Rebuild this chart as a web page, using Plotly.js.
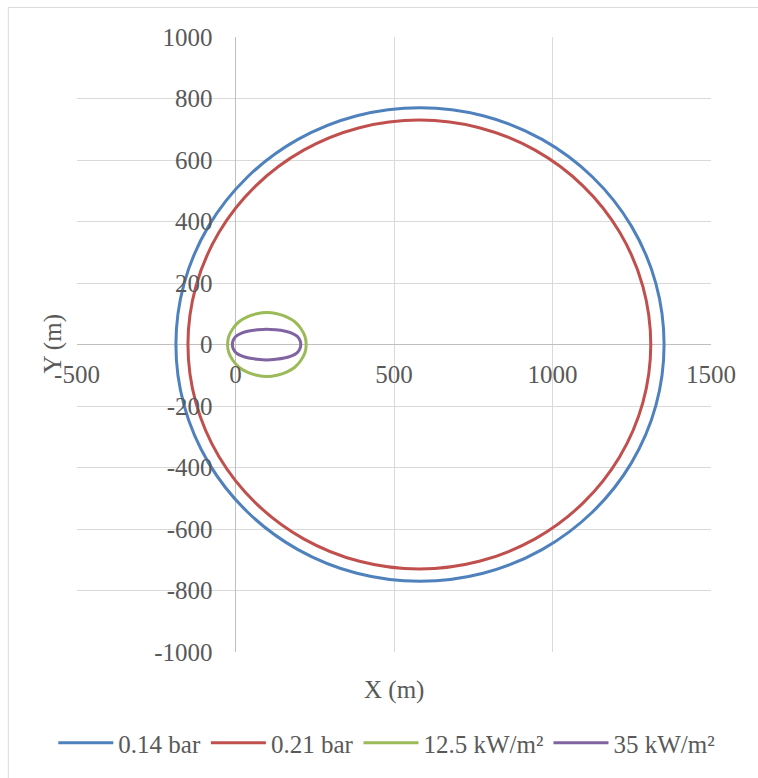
<!DOCTYPE html>
<html>
<head>
<meta charset="utf-8">
<script src="https://cdn.plot.ly/plotly-3.0.1.min.js"></script>
<style>html,body{margin:0;padding:0;background:#fff;}#chart{width:758px;height:778px;}</style>
</head>
<body>
<div id="chart"></div>
<script>
// Series names
const seriesNames = ["0.14 bar", "0.21 bar", "12.5 kW/m\u00b2", "35 kW/m\u00b2"];

// Contour points (metres)
const blueX = [1352, 1326, 1249, 1127, 967, 781, 582, 383, 197, 37, -85, -162, -188, -162, -85, 37, 197, 383, 582, 781, 967, 1127, 1249, 1326, 1352];
const blueY = [0, 199, 385, 544, 667, 744, 770, 744, 667, 544, 385, 199, 0, -199, -385, -544, -667, -744, -770, -744, -667, -544, -385, -199, 0];

const redX = [1310, 1285, 1212, 1096, 945, 769, 580, 391, 215, 64, -52, -125, -150, -125, -52, 64, 215, 391, 580, 769, 945, 1096, 1212, 1285, 1310];
const redY = [0, 189, 365, 516, 632, 705, 730, 705, 632, 516, 365, 189, 0, -189, -365, -516, -632, -705, -730, -705, -632, -516, -365, -189, 0];

const greenX = [223, 219, 206, 187, 161, 131, 99, 67, 37, 11, -8, -21, -25, -21, -8, 11, 37, 67, 99, 131, 161, 187, 206, 219, 223];
const greenY = [0, 27, 52, 74, 90, 100, 104, 100, 90, 74, 52, 27, 0, -27, -52, -74, -90, -100, -104, -100, -90, -74, -52, -27, 0];

const purpleX = [206, 203, 194, 177, 154, 127, 98, 69, 42, 19, 2, -7, -10, -7, 2, 19, 42, 69, 98, 127, 154, 177, 194, 203, 206];
const purpleY = [0, 14, 27, 37, 44, 48, 50, 48, 44, 37, 27, 14, 0, -14, -27, -37, -44, -48, -50, -48, -44, -37, -27, -14, 0];

// Axis ticks
const xTicks = [-500, 0, 500, 1000, 1500];
const yTicks = [-1000, -800, -600, -400, -200, 0, 200, 400, 600, 800, 1000];

const colors = ["#4F81BD", "#C0504D", "#9BBB59", "#8064A2"];
const xs = [blueX, redX, greenX, purpleX];
const ys = [blueY, redY, greenY, purpleY];

const traces = seriesNames.map((n, i) => ({
  type: "scatter", mode: "lines", name: n,
  x: xs[i], y: ys[i],
  line: {color: colors[i], width: 3, shape: "spline", smoothing: 1},
  hoverinfo: "x+y+name"
}));

const font = {family: "'Liberation Serif', 'Times New Roman', serif", size: 25, color: "#595959"};

const layout = {
  width: 758, height: 778,
  margin: {l: 77, r: 47, t: 37, b: 124},
  paper_bgcolor: "#ffffff", plot_bgcolor: "#ffffff",
  font: font,
  showlegend: true,
  xaxis: {
    range: [-500, 1500], tickvals: xTicks, ticktext: xTicks.map(String),
    anchor: "free", position: 0.5,
    showgrid: true, gridcolor: "#d9d9d9", gridwidth: 1,
    zeroline: true, zerolinecolor: "#bfbfbf", zerolinewidth: 1,
    showline: false, ticks: "", ticklabelstandoff: 12,
    tickfont: font, fixedrange: true
  },
  yaxis: {
    range: [-1000, 1000], tickvals: yTicks, ticktext: yTicks.map(String),
    anchor: "free", position: 0.25,
    showgrid: true, gridcolor: "#d9d9d9", gridwidth: 1,
    zeroline: true, zerolinecolor: "#bfbfbf", zerolinewidth: 1,
    showline: false, ticks: "", ticklabelstandoff: 23,
    tickfont: font, fixedrange: true
  },
  legend: {
    orientation: "h", xref: "paper", yref: "paper",
    x: -0.0374, xanchor: "left", y: -0.148, yanchor: "middle",
    font: font, bgcolor: "rgba(0,0,0,0)", itemwidth: 55, tracegroupgap: 0
  },
  annotations: [
    {text: "X (m)", xref: "paper", yref: "paper", x: 0.5, y: -0.062, xanchor: "center", yanchor: "middle", showarrow: false, font: font},
    {text: "Y (m)", xref: "paper", yref: "paper", x: -0.0394, y: 0.5, xanchor: "center", yanchor: "middle", textangle: -90, showarrow: false, font: font}
  ],
  shapes: [
    {type: "rect", xref: "paper", yref: "paper", x0: -0.1083, x1: 5, y0: -5, y1: 1.0481, line: {color: "#d9d9d9", width: 1}, layer: "below"}
  ]
};

Plotly.newPlot("chart", traces, layout, {displayModeBar: false, staticPlot: false});
</script>
</body>
</html>
